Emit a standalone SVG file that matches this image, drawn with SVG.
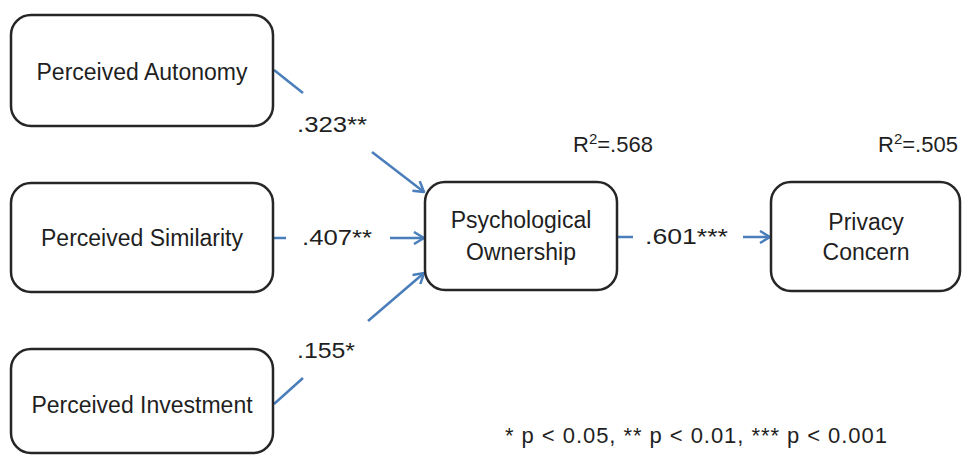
<svg xmlns="http://www.w3.org/2000/svg" width="962" height="455" viewBox="0 0 962 455">
  <style>
    .box { fill: #ffffff; stroke: #262626; stroke-width: 2.5; }
    .lbl { font-family: "Liberation Sans", Arial, sans-serif; font-size: 23px; fill: #1f1f1f; text-anchor: middle; }
    .num { font-family: "Liberation Sans", Arial, sans-serif; font-size: 22px; fill: #1f1f1f; }
    .link { stroke: #4a7ebb; stroke-width: 2.5; fill: none; }
  </style>
  <defs>
    <marker id="head" viewBox="0 0 12 14" refX="11" refY="7" markerWidth="12" markerHeight="14" markerUnits="userSpaceOnUse" orient="auto">
      <path d="M1,1 L11,7 L1,13" fill="none" stroke="#4a7ebb" stroke-width="2.5" stroke-linejoin="miter"/>
    </marker>
  </defs>
  <rect width="962" height="455" fill="#ffffff"/>

  <!-- connectors: each path is split around its coefficient label -->
  <g id="connectors">
    <line class="link" x1="274" y1="70" x2="303" y2="93"/>
    <line class="link" x1="372" y1="152" x2="424" y2="192" marker-end="url(#head)"/>
    <line class="link" x1="274" y1="238" x2="286" y2="238"/>
    <line class="link" x1="390" y1="238" x2="424" y2="238" marker-end="url(#head)"/>
    <line class="link" x1="274" y1="404" x2="303" y2="378"/>
    <line class="link" x1="368" y1="321" x2="424" y2="273" marker-end="url(#head)"/>
    <line class="link" x1="618" y1="237" x2="633" y2="237"/>
    <line class="link" x1="743" y1="237" x2="770" y2="237" marker-end="url(#head)"/>
  </g>

  <g id="autonomy">
    <rect class="box" x="11" y="15" width="262" height="111" rx="20"/>
    <text class="lbl" x="142" y="80">Perceived Autonomy</text>
  </g>
  <g id="similarity">
    <rect class="box" x="11" y="183" width="262" height="109" rx="20"/>
    <text class="lbl" x="142" y="246">Perceived Similarity</text>
  </g>
  <g id="investment">
    <rect class="box" x="11" y="349" width="262" height="104" rx="20"/>
    <text class="lbl" x="142" y="413">Perceived Investment</text>
  </g>
  <g id="ownership">
    <rect class="box" x="425" y="182" width="192" height="108" rx="20"/>
    <text class="lbl" x="521" y="228">Psychological</text>
    <text class="lbl" x="521" y="260">Ownership</text>
  </g>
  <g id="privacy">
    <rect class="box" x="771" y="182" width="189" height="109" rx="20"/>
    <text class="lbl" x="866" y="230">Privacy</text>
    <text class="lbl" x="866" y="260">Concern</text>
  </g>

  <!-- path coefficients -->
  <g id="coefficients">
    <text class="num" x="297" y="132" textLength="70" lengthAdjust="spacingAndGlyphs">.323**</text>
    <text class="num" x="302" y="245" textLength="70" lengthAdjust="spacingAndGlyphs">.407**</text>
    <text class="num" x="297" y="358" textLength="58" lengthAdjust="spacingAndGlyphs">.155*</text>
    <text class="num" x="645" y="244" textLength="83" lengthAdjust="spacingAndGlyphs">.601***</text>
  </g>

  <!-- explained variance -->
  <g id="r-squared">
    <text class="num" x="573" y="152" font-size="23">R<tspan font-size="15" dy="-8">2</tspan><tspan dy="8">=.568</tspan></text>
    <text class="num" x="878" y="152" font-size="23">R<tspan font-size="15" dy="-8">2</tspan><tspan dy="8">=.505</tspan></text>
  </g>

  <text class="num" x="505" y="443" font-size="21" textLength="382" lengthAdjust="spacing">* p &lt; 0.05, ** p &lt; 0.01, *** p &lt; 0.001</text>
</svg>
